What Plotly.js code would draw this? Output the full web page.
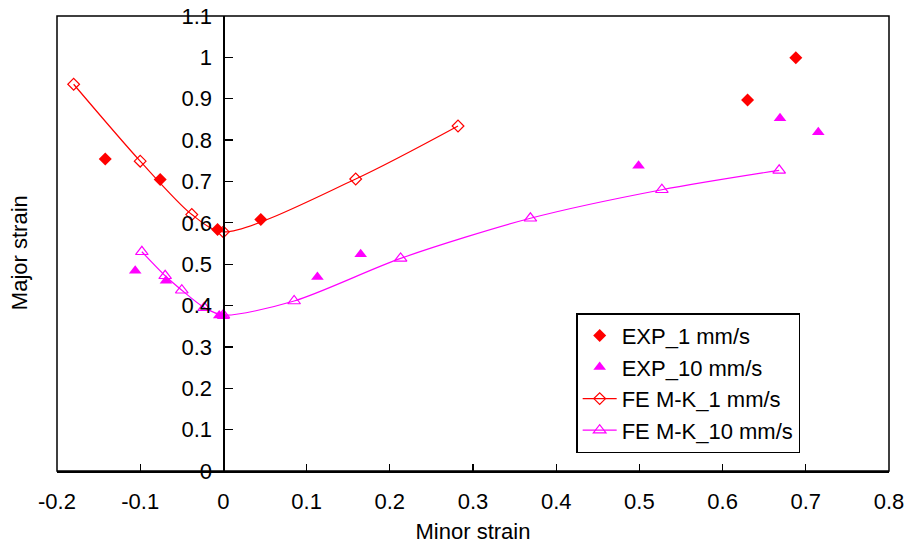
<!DOCTYPE html>
<html>
<head>
<meta charset="utf-8">
<script src="https://cdn.plot.ly/plotly-3.0.1.min.js"></script>
<style>html,body{margin:0;padding:0;background:#fff;}#chart{width:909px;height:547px;}</style>
</head>
<body>
<div id="chart"></div>
<script>
// EXP_1 mm/s
const exp1X = [-0.142, -0.076, -0.007, 0.045, 0.630, 0.688];
const exp1Y = [0.754, 0.705, 0.584, 0.608, 0.897, 0.999];
// EXP_10 mm/s
const exp10X = [-0.106, -0.069, -0.005, 0.0, 0.113, 0.165, 0.499, 0.669, 0.715];
const exp10Y = [0.484, 0.460, 0.376, 0.374, 0.469, 0.524, 0.738, 0.853, 0.819];
// FE M-K_1 mm/s
const fe1X = [-0.180, -0.100, -0.038, 0.0, 0.159, 0.282];
const fe1Y = [0.935, 0.749, 0.620, 0.578, 0.706, 0.834];
// FE M-K_10 mm/s
const fe10X = [-0.098, -0.070, -0.050, -0.023, 0.0, 0.085, 0.213, 0.369, 0.527, 0.668];
const fe10Y = [0.530, 0.472, 0.437, 0.395, 0.377, 0.411, 0.514, 0.611, 0.680, 0.727];
const names = ["EXP_1 mm/s", "EXP_10 mm/s", "FE M-K_1 mm/s", "FE M-K_10 mm/s"];
const xTicks = [-0.2, -0.1, 0, 0.1, 0.2, 0.3, 0.4, 0.5, 0.6, 0.7, 0.8];
const yTicks = [0, 0.1, 0.2, 0.3, 0.4, 0.5, 0.6, 0.7, 0.8, 0.9, 1, 1.1];

const RED = "#ff0000", MAG = "#ff00ff";
const FONT = "Liberation Sans, Arial, sans-serif";
const FS = 22;

const traces = [
  {x: exp1X, y: exp1Y, name: names[0], mode: "markers", legendgroup: "a",
   marker: {symbol: "diamond", color: RED, size: 10}},
  {x: exp10X, y: exp10Y, name: names[1], mode: "markers", legendgroup: "b",
   marker: {symbol: "triangle-up", color: MAG, size: 11}},
  {x: fe1X, y: fe1Y, name: names[2], mode: "lines+markers", legendgroup: "c",
   line: {color: RED, width: 1.2, shape: "spline", smoothing: 0.8},
   marker: {symbol: "diamond-open", color: RED, size: 9, line: {width: 1.2}}},
  {x: fe10X, y: fe10Y, name: names[3], mode: "lines+markers", legendgroup: "d",
   line: {color: MAG, width: 1.2, shape: "spline", smoothing: 0.8},
   marker: {symbol: "triangle-up-open", color: MAG, size: 11, line: {width: 1.2}}}
];

const layout = {
  width: 909, height: 547,
  margin: {l: 57, r: 20, t: 16, b: 76},
  paper_bgcolor: "#fff", plot_bgcolor: "#fff",
  font: {family: FONT, size: FS, color: "#000"},
  showlegend: true,
  legend: {x: 0.624, y: 0.347, xanchor: "left", yanchor: "top",
    bordercolor: "#000", borderwidth: 1.5, bgcolor: "#fff",
    font: {family: FONT, size: FS, color: "#000"},
    traceorder: "grouped", tracegroupgap: 0, itemwidth: 34},
  xaxis: {
    range: [-0.2, 0.8], tickvals: xTicks, ticktext: xTicks.map(String),
    showgrid: false, zeroline: false, showline: true, linecolor: "#000", linewidth: 1.5,
    ticks: "inside", ticklen: 7, tickcolor: "#000", tickwidth: 1.2,
    ticklabelstandoff: 10,
    title: {text: "Minor strain", font: {family: FONT, size: FS}, standoff: 10}
  },
  yaxis: {
    range: [0, 1.1], tickvals: yTicks, ticktext: yTicks.map(String),
    anchor: "free", position: 0.2, side: "left",
    showgrid: false, zeroline: false, showline: true, linecolor: "#000", linewidth: 1.2,
    ticks: "inside", ticklen: 8, tickcolor: "#000", tickwidth: 1.2,
    ticklabelstandoff: 7,
    title: {text: ""}
  },
  shapes: [
    {type: "rect", xref: "paper", yref: "paper", x0: 0, y0: 0, x1: 1, y1: 1,
     line: {color: "#000", width: 1.5}, fillcolor: "rgba(0,0,0,0)", layer: "above"}
  ],
  annotations: [
    {text: "Major strain", xref: "paper", yref: "paper", x: -0.045, y: 0.48,
     textangle: -90, showarrow: false, xanchor: "center", yanchor: "middle",
     font: {family: FONT, size: FS, color: "#000"}}
  ]
};

Plotly.newPlot("chart", traces, layout, {displayModeBar: false, staticPlot: true});
</script>
</body>
</html>
